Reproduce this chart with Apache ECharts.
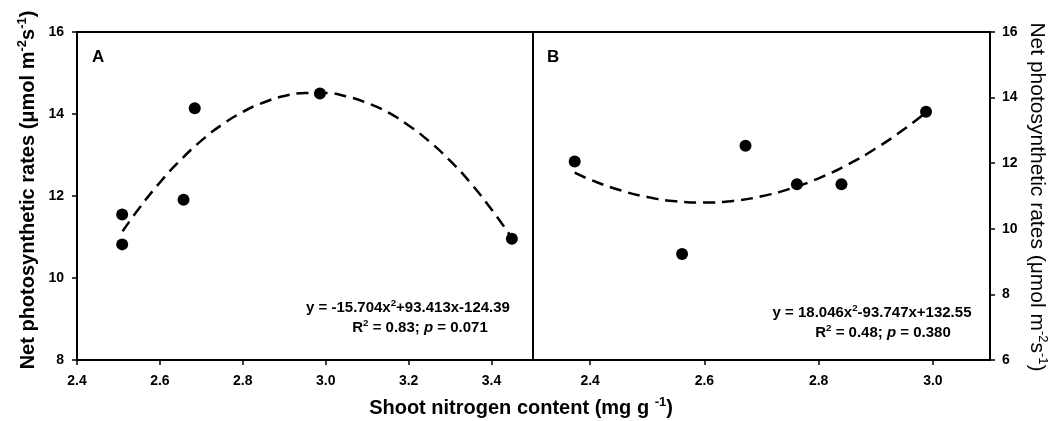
<!DOCTYPE html>
<html>
<head>
<meta charset="utf-8">
<script src="https://cdn.jsdelivr.net/npm/echarts@6/dist/echarts.min.js"></script>
<style>
  html, body { margin: 0; padding: 0; background: #fff; }
  #chart { width: 1056px; height: 421px; }
</style>
</head>
<body>
<div id="chart"></div>
<script>
  // panel A - shoot N vs net photosynthesis
  const aNitrogen = [2.509, 2.509, 2.657, 2.684, 2.986, 3.449]
  const aPhoto = [11.55, 10.82, 11.91, 14.14, 14.50, 10.96]
  // fitted curve A
  const aCurveX = [2.51, 2.55, 2.6, 2.65, 2.7, 2.75, 2.8, 2.85, 2.9, 2.95, 3.0, 3.05, 3.1, 3.15, 3.2, 3.25, 3.3, 3.35, 3.4, 3.45]
  const aCurveY = [11.14, 11.70, 12.33, 12.88, 13.35, 13.74, 14.05, 14.28, 14.44, 14.51, 14.51, 14.43, 14.27, 14.04, 13.72, 13.33, 12.86, 12.31, 11.67, 10.97]

  // panel B
  const bNitrogen = [2.373, 2.561, 2.672, 2.762, 2.840, 2.988]
  const bPhoto = [12.05, 9.23, 12.53, 11.36, 11.36, 13.57]
  const bCurveX = [2.373, 2.4, 2.45, 2.5, 2.55, 2.6, 2.65, 2.7, 2.75, 2.8, 2.85, 2.9, 2.95, 2.988]
  const bCurveY = [11.71, 11.50, 11.19, 10.97, 10.84, 10.80, 10.85, 10.99, 11.22, 11.54, 11.95, 12.45, 13.04, 13.55]

  // tick labels
  const aXTicks = [2.4, 2.6, 2.8, 3.0, 3.2, 3.4]
  const bXTicks = [2.4, 2.6, 2.8, 3.0]

  const font = 'Liberation Sans, Arial, sans-serif'
  const black = '#000'

  const axisLine = { show: true, onZero: false, lineStyle: { color: black, width: 2 } }
  const axisTick = { show: true, inside: false, length: 5, lineStyle: { color: black, width: 1.5 } }
  const tickLabel = { color: black, fontFamily: font, fontWeight: 'bold', fontSize: 14 }

  const toPairs = (xs, ys) => xs.map((x, i) => [x, ys[i]])

  // superscript helper for rich text
  const sup = (size, bold) => ({
    fontSize: size, lineHeight: size, verticalAlign: 'top', fontFamily: font,
    fontWeight: bold ? 'bold' : 'normal', fill: black, color: black
  })

  function label(x, y, text, size, extra) {
    return {
      type: 'text', x: x, y: y,
      style: {
        text: text,
        rich: { s: sup(size * 0.65, true), it: { fontStyle: 'italic', fontWeight: 'bold', fontSize: size, lineHeight: size + 4, fontFamily: font, fill: black } },
        font: 'bold ' + size + 'px ' + font, lineHeight: size + 4, fill: black,
        align: 'center', verticalAlign: 'middle', textAlign: 'center', textVerticalAlign: 'middle',
        ...extra
      }
    }
  }

  let myChart = echarts.init(document.getElementById('chart'), null, { renderer: 'canvas' })

  let option = {
    backgroundColor: '#fff',
    animation: false,
    grid: [
      { left: 77, top: 32, width: 456, bottom: 61, show: true, borderColor: black, borderWidth: 2, backgroundColor: 'transparent' },
      { left: 533, top: 32, right: 66, bottom: 61, show: true, borderColor: black, borderWidth: 2, backgroundColor: 'transparent' }
    ],
    xAxis: [
      {
        type: 'value', gridIndex: 0, min: 2.4, max: 3.5,
        axisLine: axisLine,
        axisTick: { ...axisTick, customValues: aXTicks },
        axisLabel: { ...tickLabel, margin: 14, customValues: aXTicks, formatter: v => v.toFixed(1) },
        splitLine: { show: false }
      },
      {
        type: 'value', gridIndex: 1, min: 2.3, max: 3.1,
        axisLine: axisLine,
        axisTick: { ...axisTick, customValues: bXTicks },
        axisLabel: { ...tickLabel, margin: 14, customValues: bXTicks, formatter: v => v.toFixed(1) },
        splitLine: { show: false }
      }
    ],
    yAxis: [
      {
        type: 'value', gridIndex: 0, min: 8, max: 16, interval: 2, position: 'left',
        axisLine: axisLine, axisTick: axisTick,
        axisLabel: { ...tickLabel, margin: 13 },
        splitLine: { show: false }
      },
      {
        type: 'value', gridIndex: 1, min: 6, max: 16, interval: 2, position: 'right',
        axisLine: axisLine, axisTick: axisTick,
        axisLabel: { ...tickLabel, margin: 12 },
        splitLine: { show: false }
      }
    ],
    series: [
      {
        type: 'line', xAxisIndex: 0, yAxisIndex: 0, data: toPairs(aCurveX, aCurveY),
        smooth: true, showSymbol: false, symbol: 'none',
        lineStyle: { color: black, width: 2.5, type: [12, 7] }, z: 2
      },
      {
        type: 'scatter', xAxisIndex: 0, yAxisIndex: 0, data: toPairs(aNitrogen, aPhoto),
        symbol: 'circle', symbolSize: 12, itemStyle: { color: black, opacity: 1 }, z: 3
      },
      {
        type: 'line', xAxisIndex: 1, yAxisIndex: 1, data: toPairs(bCurveX, bCurveY),
        smooth: true, showSymbol: false, symbol: 'none',
        lineStyle: { color: black, width: 2.5, type: [12, 7] }, z: 2
      },
      {
        type: 'scatter', xAxisIndex: 1, yAxisIndex: 1, data: toPairs(bNitrogen, bPhoto),
        symbol: 'circle', symbolSize: 12, itemStyle: { color: black, opacity: 1 }, z: 3
      }
    ],
    graphic: [
      // panel letters
      { type: 'text', left: 92, top: 49, style: { text: 'A', font: 'bold 17px ' + font, fill: black } },
      { type: 'text', left: 547, top: 49, style: { text: 'B', font: 'bold 17px ' + font, fill: black } },
      // equations
      label(408, 308, 'y = -15.704x{s|2}+93.413x-124.39', 15),
      label(420, 328, 'R{s|2} = 0.83; {it|p} = 0.071', 15),
      label(872, 313, 'y = 18.046x{s|2}-93.747x+132.55', 15),
      label(883, 333, 'R{s|2} = 0.48; {it|p} = 0.380', 15),
      // axis titles
      label(28, 190, 'Net photosynthetic rates (μmol m{s|-2}s{s|-1})', 20, { rotation: 0 }),
      label(521, 408, 'Shoot nitrogen content (mg g {s|-1})', 20),
      {
        type: 'text', x: 1037, y: 197, rotation: -Math.PI / 2,
        style: {
          text: 'Net photosynthetic rates (μmol m{s|-2}s{s|-1})',
          rich: { s: sup(13, false) },
          font: '21px ' + font, lineHeight: 25, fill: black,
          align: 'center', verticalAlign: 'middle', textAlign: 'center', textVerticalAlign: 'middle'
        }
      }
    ]
  }
  // left title needs rotation on the element, not the style
  option.graphic[6].rotation = Math.PI / 2
  delete option.graphic[6].style.rotation
  myChart.setOption(option, true)
</script>
</body>
</html>
